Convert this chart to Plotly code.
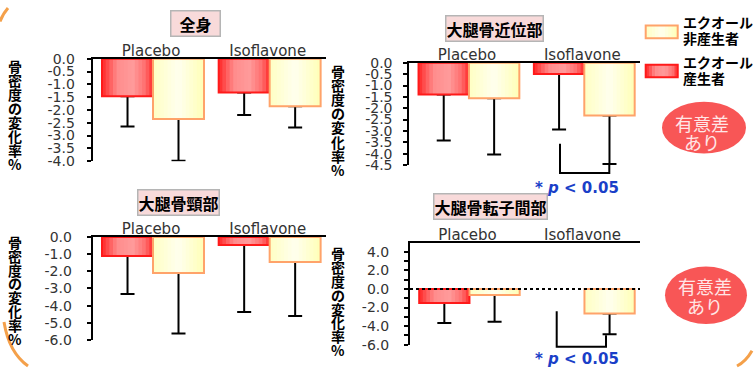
import plotly.graph_objects as go

W, H = 755, 374

groups = ["Placebo", "Isoflavone"]

# 骨密度の変化率 (%)  エクオール産生者 / 非産生者, 誤差は下向きのみ
whole_producer = [-1.47, -1.32]
whole_producer_err = [1.18, 0.88]
whole_nonproducer = [-2.35, -1.86]
whole_nonproducer_err = [1.63, 0.83]

proximal_producer = [-1.39, -0.49]
proximal_producer_err = [2.03, 2.45]
proximal_nonproducer = [-1.56, -2.32]
proximal_nonproducer_err = [2.48, 2.14]

neck_producer = [-1.10, -0.47]
neck_producer_err = [2.23, 3.91]
neck_nonproducer = [-2.10, -1.45]
neck_nonproducer_err = [3.53, 3.15]

troch_producer = [-1.52, None]
troch_producer_err = [2.14, None]
troch_nonproducer = [-0.64, -2.64]
troch_nonproducer_err = [2.88, 2.24]

ticks_whole = [0, -0.5, -1, -1.5, -2, -2.5, -3, -3.5, -4]
ticks_whole_text = ["0.0", "-0.5", "-1.0", "-1.5", "-2.0", "-2.5", "-3.0", "-3.5", "-4.0"]
ticks_proximal = [0, -0.5, -1, -1.5, -2, -2.5, -3, -3.5, -4, -4.5]
ticks_proximal_text = ["0.0", "-0.5", "-1.0", "-1.5", "-2.0", "-2.5", "-3.0", "-3.5", "-4.0", "-4.5"]
ticks_neck = [0, -1, -2, -3, -4, -5, -6]
ticks_neck_text = ["0.0", "-1.0", "-2.0", "-3.0", "-4.0", "-5.0", "-6.0"]
ticks_troch = [4, 3, 2, 1, 0, -1, -2, -3, -4, -5, -6]
ticks_troch_text = ["4.0", "", "2.0", "", "0.0", "", "-2.0", "", "-4.0", "", "-6.0"]

axis_title_chars = ["骨", "密", "度", "の", "変", "化", "率", "%"]
legend_nonproducer = ["エクオール", "非産生者"]
legend_producer = ["エクオール", "産生者"]
badge_lines = ["有意差", "あり"]

RED_STOPS = [(0, (255, 40, 40)), (0.3, (255, 140, 140)), (0.6, (255, 155, 155)),
             (0.85, (255, 110, 110)), (1, (255, 45, 45))]
YELLOW_STOPS = [(0, (255, 255, 195)), (0.5, (255, 255, 238)), (1, (255, 255, 182))]
RED_EDGE = "#ff1a1a"
YELLOW_EDGE = "#ffa36a"
N_STRIPS = 14
BAR_W = 0.437


def px(x):
    return x / W


def py(y):
    return 1 - y / H


def blend(stops, t):
    for (t0, c0), (t1, c1) in zip(stops, stops[1:]):
        if t0 <= t <= t1:
            f = (t - t0) / (t1 - t0)
            return "rgb(%d,%d,%d)" % tuple(round(a + (b - a) * f) for a, b in zip(c0, c1))
    return "rgb(%d,%d,%d)" % stops[-1][1]


panels = [
    dict(title="\u2002全身\u2002", prod=whole_producer, prod_err=whole_producer_err,
         non=whole_nonproducer, non_err=whole_nonproducer_err,
         box=(92.7, 326, 53, 160), rng=[-4, 0], tv=ticks_whole, tt=ticks_whole_text,
         title_xy=(195, 16), yt=(15, 61, 14.5), standoff=9),
    dict(title="大腿骨近位部", prod=proximal_producer, prod_err=proximal_producer_err,
         non=proximal_nonproducer, non_err=proximal_nonproducer_err,
         box=(409.3, 640, 57.3, 164), rng=[-4.5, 0], tv=ticks_proximal, tt=ticks_proximal_text,
         title_xy=(494, 21.5), yt=(338, 66, 14.7), standoff=8),
    dict(title="大腿骨頸部", prod=neck_producer, prod_err=neck_producer_err,
         non=neck_nonproducer, non_err=neck_nonproducer_err,
         box=(92.7, 326, 239.3, 346.7), rng=[-6, 0], tv=ticks_neck, tt=ticks_neck_text,
         title_xy=(178, 203), yt=(15, 244, 14.6), standoff=12),
    dict(title="大腿骨転子間部", prod=troch_producer, prod_err=troch_producer_err,
         non=troch_nonproducer, non_err=troch_nonproducer_err,
         box=(410, 640, 245, 351.7), rng=[-6, 5], tv=ticks_troch, tt=ticks_troch_text,
         title_xy=(490.7, 207), yt=(338, 256, 14.5), standoff=12),
]

fig = go.Figure()
layout = {}
annotations = []
shapes = []


def add_series(xr, yr, vals, errs, offset, stops, edge):
    common = dict(x=groups, y=vals, xaxis=xr, yaxis=yr, showlegend=False, hoverinfo="skip")
    # error bars first so the bar body hides the zero-length cap
    fig.add_trace(go.Bar(**common, offset=offset, width=BAR_W,
                         marker=dict(color="rgba(0,0,0,0)", line=dict(width=0)),
                         error_y=dict(type="data", symmetric=False, array=[0, 0], arrayminus=errs,
                                      color="black", thickness=2, width=7)))
    step = BAR_W / N_STRIPS
    for i in range(N_STRIPS):
        wdt = step * 1.4 if i < N_STRIPS - 1 else step
        fig.add_trace(go.Bar(**common, offset=offset + i * step, width=wdt,
                             marker=dict(color=blend(stops, (i + 0.5) / N_STRIPS), line=dict(width=0))))
    fig.add_trace(go.Bar(**common, offset=offset, width=BAR_W,
                         marker=dict(color="rgba(0,0,0,0)", line=dict(color=edge, width=2))))


for k, p in enumerate(panels):
    s = "" if k == 0 else str(k + 1)
    xr, yr = "x" + s, "y" + s
    x0, x1, y0, y1 = p["box"]
    layout["xaxis" + s] = dict(domain=[px(x0), px(x1)], anchor=yr, side="top", type="category",
                               categoryorder="array", categoryarray=groups, range=[-0.5, 1.5],
                               showline=True, linecolor="black", linewidth=2, ticks="",
                               showgrid=False, zeroline=False, ticklabelstandoff=-5,
                               tickfont=dict(size=15, color="#333333"))
    layout["yaxis" + s] = dict(domain=[py(y1), py(y0)], anchor=xr, range=p["rng"],
                               tickmode="array", tickvals=p["tv"], ticktext=p["tt"],
                               ticks="outside", ticklen=4, tickwidth=1.5, tickcolor="black",
                               showline=True, linecolor="black", linewidth=2,
                               showgrid=False, zeroline=False, ticklabelstandoff=p["standoff"],
                               tickfont=dict(size=14, color="#333333"))
    add_series(xr, yr, p["prod"], p["prod_err"], -0.42, RED_STOPS, RED_EDGE)
    add_series(xr, yr, p["non"], p["non_err"], -0.42 + BAR_W, YELLOW_STOPS, YELLOW_EDGE)

    tx, ty = p["title_xy"]
    annotations.append(dict(text="<b>%s</b>" % p["title"], x=px(tx), y=py(ty), xref="paper", yref="paper",
                            xanchor="center", yanchor="middle", showarrow=False,
                            font=dict(size=16, color="black", family="Noto Sans CJK JP"),
                            bgcolor="#f8dada", bordercolor="#b5b5b5", borderwidth=1.5, borderpad=0))
    ax, ay, dy = p["yt"]
    for j, ch in enumerate(axis_title_chars):
        annotations.append(dict(text="<b>%s</b>" % ch, x=px(ax), y=py(ay + j * dy), xref="paper", yref="paper",
                                xanchor="center", yanchor="middle", showarrow=False,
                                font=dict(size=14, color="black", family="Noto Sans CJK JP")))

# dotted zero line of the last panel
shapes.append(dict(type="line", xref="x4 domain", yref="y4", x0=0, x1=1, y0=0, y1=0,
                   line=dict(color="black", width=2, dash="dot")))

# significance brackets
for (xl, xr_, ytop, ybot, yright, ytext) in [(560, 609.3, 141.7, 172.3, 163, 188),
                                             (556.7, 606, 316.7, 354, 342, 367)]:
    shapes.append(dict(type="path", xref="paper", yref="paper",
                       path="M %f %f L %f %f L %f %f L %f %f" % (px(xl), py(ytop), px(xl), py(ybot),
                                                                  px(xr_), py(ybot), px(xr_), py(yright)),
                       line=dict(color="black", width=2)))
    annotations.append(dict(text="<b>* <i>p</i> &lt; 0.05</b>", x=px(577), y=py(ytext), xref="paper",
                            yref="paper", xanchor="center", yanchor="middle", showarrow=False,
                            font=dict(size=15, color="#1a3fc8")))

# legend swatches
for (sy0, sy1, stops, edge, lines, ly) in [(18.3, 31.7, YELLOW_STOPS, YELLOW_EDGE, legend_nonproducer, (15, 31)),
                                           (59.3, 72.3, RED_STOPS, RED_EDGE, legend_producer, (56, 73))]:
    sx0, sx1 = 645.7, 677.7
    n = 10
    for i in range(n):
        a = sx0 + (sx1 - sx0) * i / n
        b = sx0 + (sx1 - sx0) * (i + 1) / n
        shapes.append(dict(type="rect", xref="paper", yref="paper", x0=px(a), x1=px(b + 0.5),
                           y0=py(sy1), y1=py(sy0), fillcolor=blend(stops, (i + 0.5) / n),
                           line=dict(width=0)))
    shapes.append(dict(type="rect", xref="paper", yref="paper", x0=px(sx0), x1=px(sx1),
                       y0=py(sy1), y1=py(sy0), line=dict(color=edge, width=2)))
    for txt, yy in zip(lines, ly):
        annotations.append(dict(text="<b>%s</b>" % txt, x=px(681), y=py(yy), xref="paper", yref="paper",
                                xanchor="left", yanchor="middle", showarrow=False,
                                font=dict(size=14, color="black", family="Noto Sans CJK JP")))

# 有意差あり badges
for (cx, cy, rx, ry, tx, t1, t2) in [(704, 125, 42, 27, 702, 120, 140), (706, 300, 41, 30, 705, 290, 311)]:
    shapes.append(dict(type="circle", xref="paper", yref="paper", x0=px(cx - rx), x1=px(cx + rx),
                       y0=py(cy + ry), y1=py(cy - ry), fillcolor="#f85656", line=dict(width=0)))
    for txt, yy in zip(badge_lines, (t1, t2)):
        annotations.append(dict(text=txt, x=px(tx), y=py(yy), xref="paper", yref="paper",
                                xanchor="center", yanchor="middle", showarrow=False,
                                font=dict(size=18, color="#ffe6e6", family="Noto Sans CJK JP")))

# orange slide frame fragments
for (ax0, ay0), (cx1, cy1), (ex, ey) in [[(0, 14), (3, 6), (8, 0)],
                                         [(4, 328), (9, 360), (28, 374)],
                                         [(752, 358), (746, 369), (737, 374)]]:
    shapes.append(dict(type="path", xref="paper", yref="paper",
                       path="M %f,%f Q %f,%f %f,%f" % (px(ax0), py(ay0), px(cx1), py(cy1), px(ex), py(ey)),
                       line=dict(color="#f4a04a", width=3)))

fig.update_layout(
    width=W, height=H, margin=dict(l=0, r=0, t=0, b=0),
    paper_bgcolor="white", plot_bgcolor="rgba(0,0,0,0)",
    barmode="overlay", showlegend=False,
    font=dict(family="DejaVu Sans", color="#333333"),
    annotations=annotations, shapes=shapes,
    **layout,
)

fig.write_html("out.html", config={"displayModeBar": False},
               post_script="document.body.style.margin = '0';")
